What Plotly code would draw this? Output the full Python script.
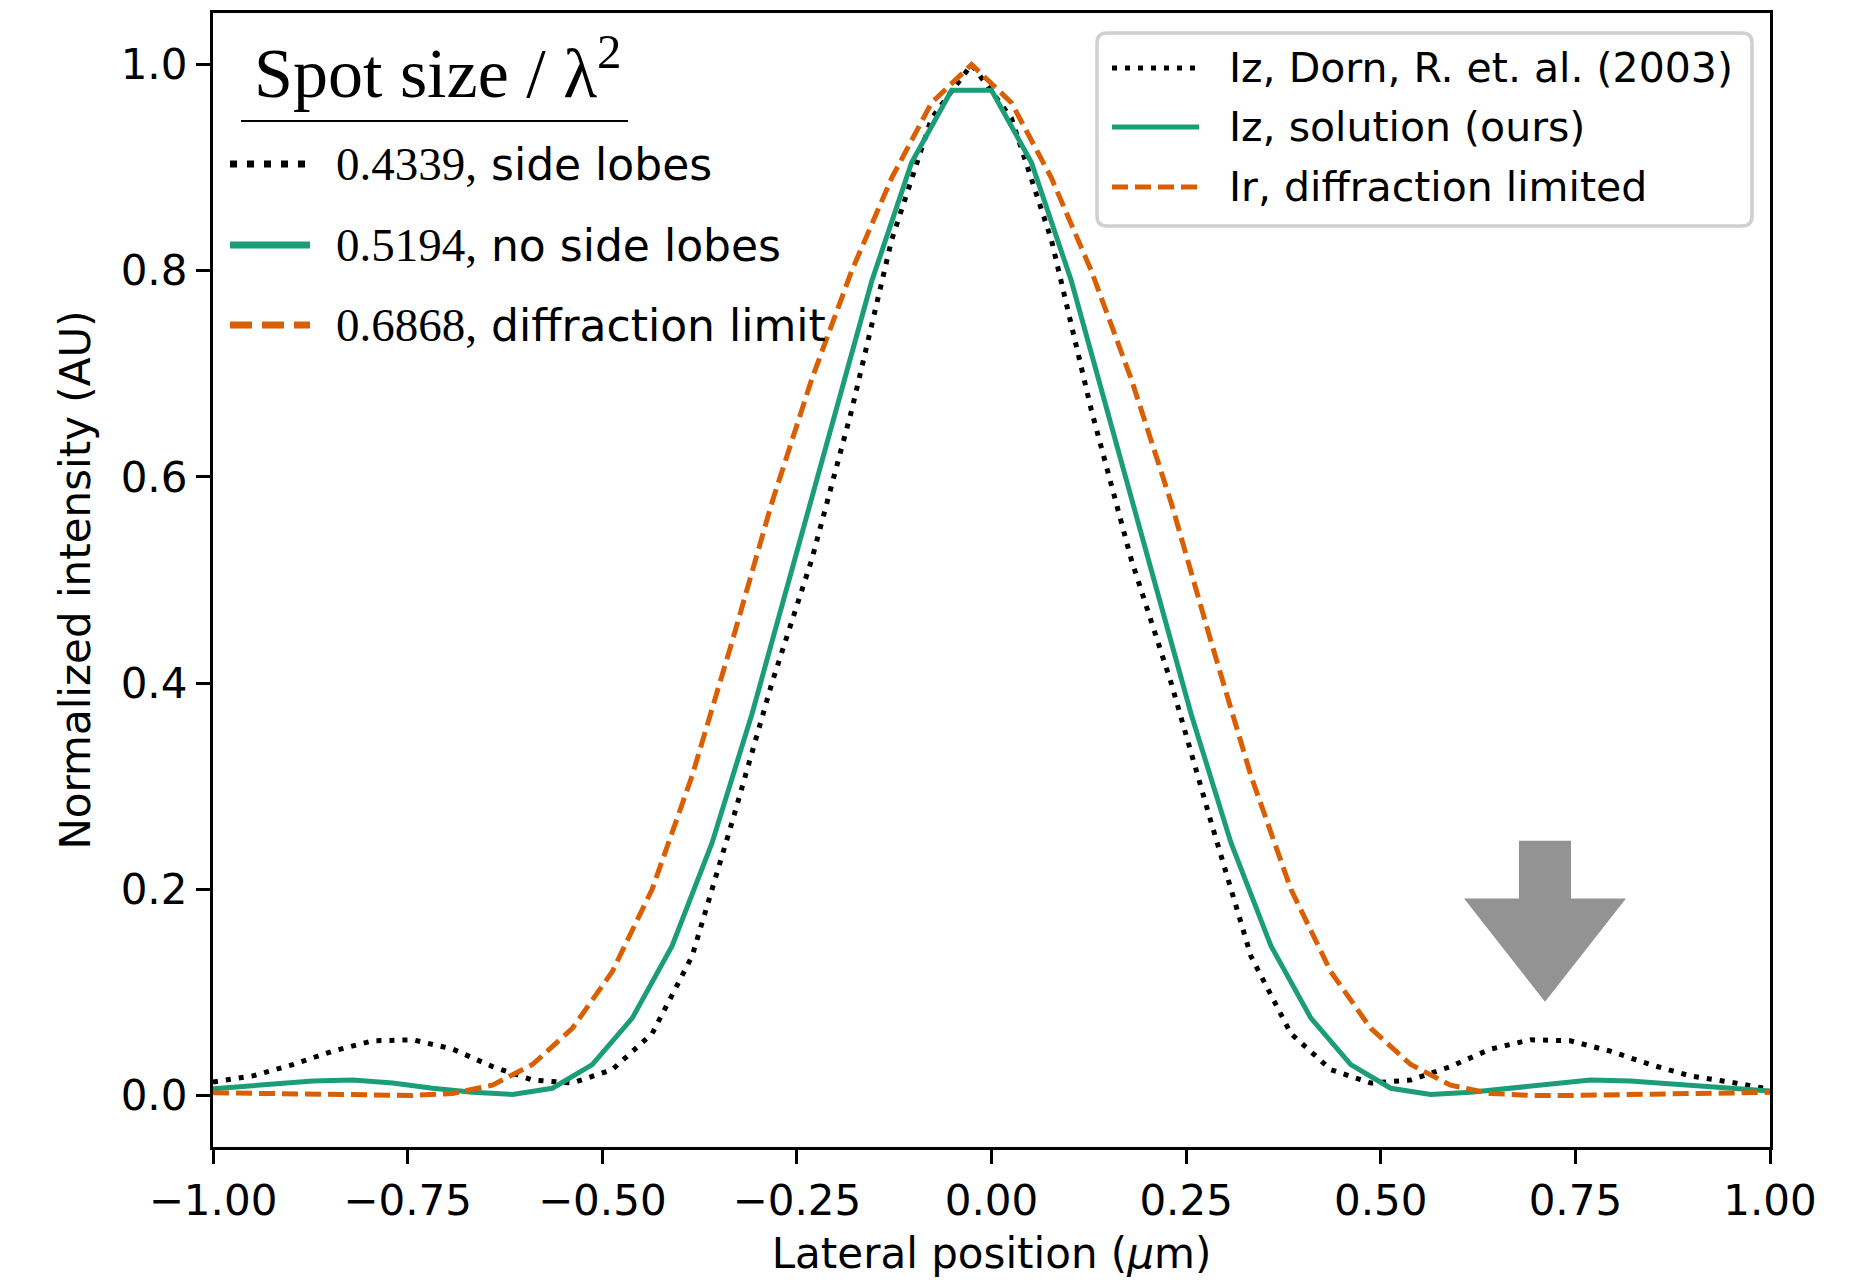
import plotly.graph_objects as go

# ---------------- data ----------------
# sample positions (µm)
grid_x = [-1.0000, -0.9487, -0.8974, -0.8462, -0.7949, -0.7436, -0.6923, -0.6410,
          -0.5897, -0.5385, -0.4872, -0.4359, -0.3846, -0.3333, -0.2821, -0.2308,
          -0.1795, -0.1282, -0.0769, -0.0256, 0.0256, 0.0769, 0.1282, 0.1795,
          0.2308, 0.2821, 0.3333, 0.3846, 0.4359, 0.4872, 0.5385, 0.5897,
          0.6410, 0.6923, 0.7436, 0.7949, 0.8462, 0.8974, 0.9487, 1.0000]

ours_x = [-1.0256, -0.9744, -0.9231, -0.8718, -0.8205, -0.7692, -0.7179, -0.6667,
          -0.6154, -0.5641, -0.5128, -0.4615, -0.4103, -0.3590, -0.3077, -0.2564,
          -0.2051, -0.1538, -0.1026, -0.0513, 0.0000, 0.0513, 0.1026, 0.1538,
          0.2051, 0.2564, 0.3077, 0.3590, 0.4103, 0.4615, 0.5128, 0.5641,
          0.6154, 0.6667, 0.7179, 0.7692, 0.8205, 0.8718, 0.9231, 0.9744, 1.0256]

# Iz, Dorn, R. et. al. (2003)
dorn_y = [0.013, 0.019, 0.030, 0.043, 0.053, 0.054, 0.045, 0.028,
          0.015, 0.012, 0.025, 0.060, 0.135, 0.265, 0.400, 0.520,
          0.665, 0.830, 0.948, 1.000, 0.948, 0.830, 0.665, 0.520,
          0.400, 0.265, 0.135, 0.060, 0.025, 0.012, 0.015, 0.028,
          0.045, 0.054, 0.053, 0.043, 0.030, 0.019, 0.013, 0.006]

# Iz, solution (ours)
ours_y = [0.005, 0.008, 0.011, 0.014, 0.015, 0.012, 0.007, 0.003,
          0.001, 0.007, 0.030, 0.075, 0.145, 0.245, 0.370, 0.510,
          0.650, 0.790, 0.905, 0.975, 0.975, 0.905, 0.790, 0.650,
          0.510, 0.370, 0.245, 0.145, 0.075, 0.030, 0.007, 0.001,
          0.003, 0.007, 0.012, 0.015, 0.014, 0.011, 0.008, 0.005, 0.003]

# Ir, diffraction limited
diff_y = [0.0026, 0.002, 0.001, 0.0005, 0.000, 0.000, 0.002, 0.010,
          0.030, 0.065, 0.120, 0.200, 0.310, 0.440, 0.575, 0.695,
          0.800, 0.890, 0.963, 1.000, 0.963, 0.890, 0.800, 0.695,
          0.575, 0.440, 0.310, 0.200, 0.120, 0.065, 0.030, 0.010,
          0.002, 0.000, 0.000, 0.0005, 0.001, 0.002, 0.0026, 0.003]

series_names = ["Iz, Dorn, R. et. al. (2003)", "Iz, solution (ours)", "Ir, diffraction limited"]
spot_values = ["0.4339", "0.5194", "0.6868"]
spot_labels = ["side lobes", "no side lobes", "diffraction limit"]

x_tickvals = [-1.0, -0.75, -0.5, -0.25, 0.0, 0.25, 0.5, 0.75, 1.0]
x_ticktext = ["\u22121.00", "\u22120.75", "\u22120.50", "\u22120.25", "0.00", "0.25", "0.50", "0.75", "1.00"]
y_tickvals = [0.0, 0.2, 0.4, 0.6, 0.8, 1.0]
y_ticktext = ["0.0", "0.2", "0.4", "0.6", "0.8", "1.0"]

# ---------------- styling ----------------
BLACK = "#000000"
GREEN = "#1b9e77"
ORANGE = "#d95f02"
SANS = "DejaVu Sans"
SERIF = "Liberation Serif"

PAGE_OFF = 8                       # default body margin of the html page
W, H = 1865 - PAGE_OFF, 1286 - PAGE_OFF
L, R, T, B = 213, 1770, 13, 1147   # plot area in page pixels


def px(x):
    return (x - L) / (R - L)


def py(y):
    return (B - y) / (B - T)


fig = go.Figure()
fig.add_trace(go.Scatter(x=grid_x, y=dorn_y, mode="lines", name=series_names[0],
                         line=dict(color=BLACK, width=5, dash="5px,8px"), showlegend=False))
fig.add_trace(go.Scatter(x=ours_x, y=ours_y, mode="lines", name=series_names[1],
                         line=dict(color=GREEN, width=5), showlegend=False))
fig.add_trace(go.Scatter(x=grid_x, y=diff_y, mode="lines", name=series_names[2],
                         line=dict(color=ORANGE, width=5, dash="16px,7px"), showlegend=False))

shapes = []
annotations = []

# grey arrow pointing at the side lobe
arrow_path = ("M 0.6776 0.247 L 0.7444 0.247 L 0.7444 0.191 L 0.815 0.191 "
              "L 0.711 0.091 L 0.607 0.191 L 0.6776 0.191 Z")
shapes.append(dict(type="path", xref="x", yref="y", path=arrow_path,
                   fillcolor="#939393", line=dict(width=0), layer="above"))

# ---- right legend (box + entries) ----
bx0, bx1, by0, by1, rad = 1097, 1752, 33, 226, 10
rx, ry = rad / (R - L), rad / (B - T)
p = (f"M {px(bx0)+rx} {py(by0)} L {px(bx1)-rx} {py(by0)} "
     f"Q {px(bx1)} {py(by0)} {px(bx1)} {py(by0)-ry} "
     f"L {px(bx1)} {py(by1)+ry} Q {px(bx1)} {py(by1)} {px(bx1)-rx} {py(by1)} "
     f"L {px(bx0)+rx} {py(by1)} Q {px(bx0)} {py(by1)} {px(bx0)} {py(by1)+ry} "
     f"L {px(bx0)} {py(by0)-ry} Q {px(bx0)} {py(by0)} {px(bx0)+rx} {py(by0)} Z")
shapes.append(dict(type="path", xref="paper", yref="paper", path=p,
                   fillcolor="rgba(255,255,255,0.8)", line=dict(color="#d0d0d0", width=3.5),
                   layer="above"))
right_rows = [68, 127, 187]
styles_small = [dict(color=BLACK, width=5, dash="5px,8px"),
                dict(color=GREEN, width=5),
                dict(color=ORANGE, width=5, dash="16px,7px")]
for i, yy in enumerate(right_rows):
    shapes.append(dict(type="line", xref="paper", yref="paper",
                       x0=px(1112), x1=px(1199), y0=py(yy), y1=py(yy),
                       line=styles_small[i], layer="above"))
    annotations.append(dict(xref="paper", yref="paper", x=px(1227), y=py(yy),
                            xanchor="left", yanchor="middle", showarrow=False,
                            text=series_names[i], font=dict(family=SANS, size=41, color=BLACK)))

# ---- left legend (spot size) ----
annotations.append(dict(xref="paper", yref="paper", x=px(252), y=py(68),
                        xanchor="left", yanchor="middle", showarrow=False,
                        text="Spot size / \u03bb<sup>2</sup>",
                        font=dict(family=SERIF, size=70, color=BLACK)))
shapes.append(dict(type="line", xref="paper", yref="paper",
                   x0=px(241), x1=px(628), y0=py(121), y1=py(121),
                   line=dict(color=BLACK, width=2), layer="above"))
left_rows = [164, 245, 325]
styles_big = [dict(color=BLACK, width=7, dash="7px,10px"),
              dict(color=GREEN, width=7),
              dict(color=ORANGE, width=7, dash="22px,10px")]
for i, yy in enumerate(left_rows):
    shapes.append(dict(type="line", xref="paper", yref="paper",
                       x0=px(230), x1=px(310), y0=py(yy), y1=py(yy),
                       line=styles_big[i], layer="above"))
    annotations.append(dict(xref="paper", yref="paper", x=px(334), y=py(yy),
                            xanchor="left", yanchor="middle", showarrow=False,
                            text=(f'<span style="font-family:{SERIF};font-size:47px">'
                                  f'{spot_values[i]},</span> {spot_labels[i]}'),
                            font=dict(family=SANS, size=44, color=BLACK)))

fig.update_layout(
    width=W, height=H,
    margin=dict(l=L - PAGE_OFF, r=W - (R - PAGE_OFF), t=T - PAGE_OFF,
                b=H - (B - PAGE_OFF), pad=0),
    paper_bgcolor="white", plot_bgcolor="white",
    shapes=shapes, annotations=annotations,
    font=dict(family=SANS, size=42, color=BLACK),
    showlegend=False,
)
fig.update_xaxes(range=[-1, 1], tickvals=x_tickvals, ticktext=x_ticktext,
                 showgrid=False, zeroline=False, showline=True, mirror=True,
                 linecolor=BLACK, linewidth=3.3, ticks="outside", ticklen=14,
                 tickwidth=3.3, tickcolor=BLACK, tickfont=dict(family=SANS, size=42),
                 title=dict(text="Lateral position (<i>\u03bc</i>m)", standoff=16,
                            font=dict(family=SANS, size=42)), automargin=False)
fig.update_yaxes(range=[-0.05, 1.05], tickvals=y_tickvals, ticktext=y_ticktext,
                 showgrid=False, zeroline=False, showline=True, mirror=True,
                 linecolor=BLACK, linewidth=3.3, ticks="outside", ticklen=14,
                 tickwidth=3.3, tickcolor=BLACK, tickfont=dict(family=SANS, size=42),
                 title=dict(text="Normalized intensity (AU)", standoff=17,
                            font=dict(family=SANS, size=42)), automargin=False)

fig.write_html("out.html")
